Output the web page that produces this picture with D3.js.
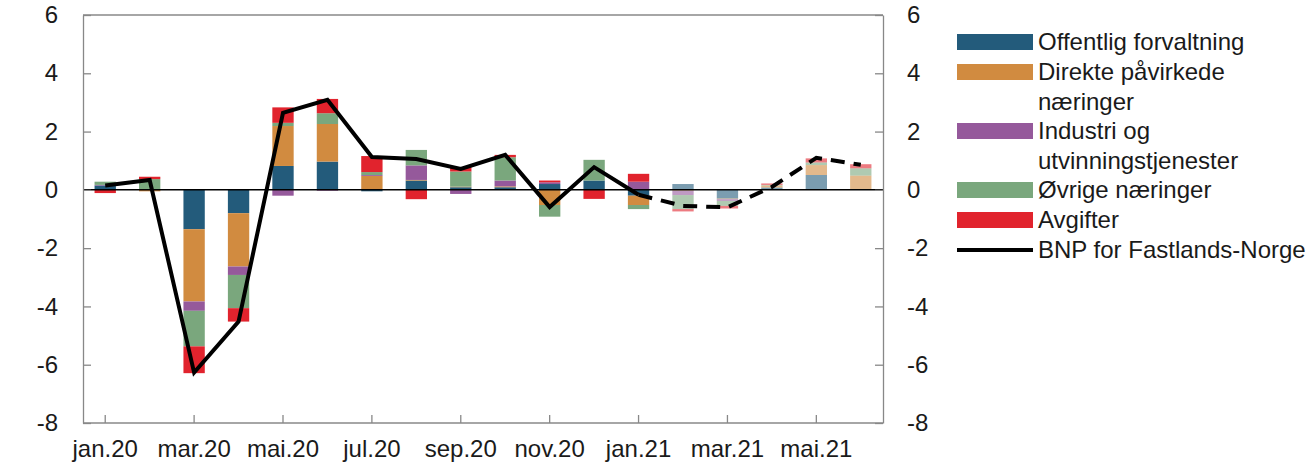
<!DOCTYPE html>
<meta charset="utf-8">
<style>
body { margin: 0; background: #fff; }
text { font-family: "Liberation Sans", Arial, Helvetica, sans-serif; font-size: 24px; fill: #1a1a1a; }
.axis path, .axis line { stroke: #888; stroke-width: 1.3px; }
.axis text { font-size: 24px; fill: #1a1a1a; }
</style>
<svg id="chart" width="1314" height="468"></svg>
<script src="https://d3js.org/d3.v7.min.js"></script>
<script>

var months = ["jan.20", "feb.20", "mar.20", "apr.20", "mai.20", "jun.20", "jul.20", "aug.20", "sep.20",
              "okt.20", "nov.20", "des.20", "jan.21", "feb.21", "mar.21", "apr.21", "mai.21", "jun.21"];
var tickMonths = ["jan.20", "mar.20", "mai.20", "jul.20", "sep.20", "nov.20", "jan.21", "mar.21", "mai.21"];
var yTicks = [-8, -6, -4, -2, 0, 2, 4, 6];

// bidrag per sektor, prosentpoeng
var offentlig = [0.15, 0.03, -1.35, -0.80, 0.82, 0.97, -0.05, 0.32, 0.09, 0.09, 0.20, 0.32, -0.20, 0.20, -0.30, 0.08, 0.51, 0.03];
var direkte   = [0.00, -0.05, -2.48, -1.83, 1.37, 1.29, 0.48, 0.02, 0.02, 0.03, -0.52, 0.00, -0.32, -0.03, -0.02, 0.07, 0.34, 0.46];
var industri  = [0.02, 0.00, -0.32, -0.29, -0.20, -0.03, 0.03, 0.50, -0.14, 0.20, 0.06, 0.00, 0.28, -0.15, -0.06, 0.00, 0.00, 0.00];
var ovrige    = [0.11, 0.34, -1.22, -1.14, 0.11, 0.37, 0.10, 0.53, 0.52, 0.80, -0.40, 0.71, -0.14, -0.48, -0.17, 0.02, 0.09, 0.25];
var avgifter  = [-0.11, 0.08, -0.92, -0.46, 0.53, 0.49, 0.55, -0.32, 0.15, 0.08, 0.06, -0.31, 0.27, -0.08, -0.09, 0.05, 0.14, 0.14];
var bnp       = [0.15, 0.34, -6.27, -4.52, 2.64, 3.09, 1.13, 1.06, 0.72, 1.20, -0.59, 0.78, -0.17, -0.55, -0.60, 0.10, 1.10, 0.86];

var firstProjection = 13; // feb.21 -> anslag (lysere søyler)
var lineSplit = 12;       // stiplet linje fra jan.21

var keys = ["offentlig", "direkte", "industri", "ovrige", "avgifter"];
var names = ["Offentlig forvaltning", "Direkte påvirkede\nnæringer", "Industri og\nutvinningstjenester", "Øvrige næringer", "Avgifter"];
var colors = ["#235b7b", "#d18b40", "#95599b", "#7aa77d", "#e1232d"];

var rows = months.map(function(m, i) {
  return {month: m, offentlig: offentlig[i], direkte: direkte[i], industri: industri[i], ovrige: ovrige[i], avgifter: avgifter[i], bnp: bnp[i], i: i};
});

var svg = d3.select("#chart"),
    plotLeft = 83, plotRight = 883, plotTop = 15, plotBottom = 423;

var x = d3.scaleBand().domain(months).range([plotLeft, plotRight]).paddingInner(0.52).paddingOuter(0.26);
var y = d3.scaleLinear().domain([-8, 6]).range([plotBottom, plotTop]);
var color = d3.scaleOrdinal().domain(keys).range(colors);

var series = d3.stack().keys(keys).offset(d3.stackOffsetDiverging)(rows);

// ramme
svg.append("line").attr("x1", plotLeft).attr("x2", plotRight).attr("y1", plotTop).attr("y2", plotTop)
    .attr("stroke", "#888").attr("stroke-width", 1.3);

svg.append("g").selectAll("g")
  .data(series)
  .join("g")
    .attr("fill", function(d) { return color(d.key); })
  .selectAll("rect")
  .data(function(d) { return d; })
  .join("rect")
    .attr("x", function(d) { return x(d.data.month); })
    .attr("width", x.bandwidth())
    .attr("y", function(d) { return y(Math.max(d[0], d[1])); })
    .attr("height", function(d) { return Math.abs(y(d[0]) - y(d[1])); })
    .attr("fill-opacity", function(d) { return d.data.i >= firstProjection ? 0.6 : 1; });

// nullinje
svg.append("line").attr("x1", plotLeft).attr("x2", plotRight).attr("y1", y(0)).attr("y2", y(0))
    .attr("stroke", "#000").attr("stroke-width", 1.5);

var line = d3.line()
    .x(function(d) { return x(d.month) + x.bandwidth() / 2; })
    .y(function(d) { return y(d.bnp); });

svg.append("path")
    .datum(rows.slice(0, lineSplit + 1))
    .attr("fill", "none").attr("stroke", "#000").attr("stroke-width", 4)
    .attr("d", line);

svg.append("path")
    .datum(rows.slice(lineSplit))
    .attr("fill", "none").attr("stroke", "#000").attr("stroke-width", 4)
    .attr("stroke-dasharray", "14,9")
    .attr("d", line);

// akser
var fmt = function(d) { return String(d); };

svg.append("g").attr("class", "axis")
    .attr("transform", "translate(" + plotLeft + ",0)")
    .call(d3.axisLeft(y).tickValues(yTicks).tickFormat(fmt).tickSize(-8).tickSizeOuter(0).tickPadding(25));

svg.append("g").attr("class", "axis")
    .attr("transform", "translate(" + plotRight + ",0)")
    .call(d3.axisRight(y).tickValues(yTicks).tickFormat(fmt).tickSize(-8).tickSizeOuter(0).tickPadding(24));

var xAxis = svg.append("g").attr("class", "axis")
    .attr("transform", "translate(0," + plotBottom + ")")
    .call(d3.axisBottom(x).tickValues(tickMonths).tickSize(-8).tickSizeOuter(0).tickPadding(17));
xAxis.select(".domain").attr("d", "M" + plotLeft + ",0H" + plotRight);

// forklaring
var legend = svg.append("g").attr("transform", "translate(957,0)");
var rowY = [42, 72, 131, 190, 220];
keys.forEach(function(k, i) {
  legend.append("rect").attr("x", 0).attr("y", rowY[i] - 8).attr("width", 76).attr("height", 16)
      .attr("fill", colors[i]);
  var t = legend.append("text").attr("x", 81).attr("y", rowY[i]);
  names[i].split("\n").forEach(function(s, j) {
    t.append("tspan").attr("x", 81).attr("dy", j === 0 ? "0.35em" : "1.24em").text(s);
  });
});
legend.append("line").attr("x1", 0).attr("x2", 76).attr("y1", 250).attr("y2", 250)
    .attr("stroke", "#000").attr("stroke-width", 4);
legend.append("text").attr("x", 81).attr("y", 250).attr("dy", "0.35em").text("BNP for Fastlands-Norge");

</script>
